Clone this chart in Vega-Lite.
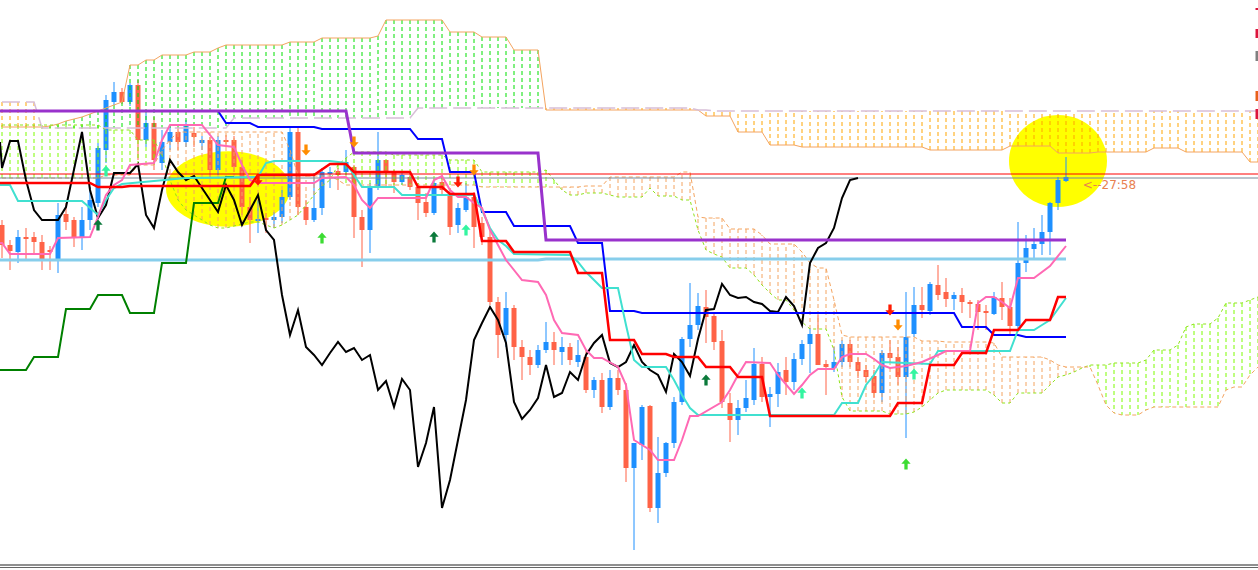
{
  "$schema": "https://vega.github.io/schema/vega-lite/v6.json",
  "width": 1258,
  "height": 570,
  "padding": 0,
  "autosize": {"type": "none"},
  "background": "#ffffff",
  "datasets": {
    "zones": [
      {"t": 28.25, "v": 189, "z": "a"},
      {"t": 132, "v": 161, "z": "b"}
    ],
    "candles": [
      {"t":0,"o":225,"h":220,"l":258,"c":245},{"t":1,"o":245,"h":240,"l":270,"c":251},{"t":2,"o":252,"h":230,"l":263,"c":237},
      {"t":3,"o":237,"h":228,"l":260,"c":239},{"t":4,"o":237,"h":232,"l":253,"c":242},{"t":5,"o":242,"h":235,"l":270,"c":260},
      {"t":6,"o":250,"h":246,"l":270,"c":252},{"t":7,"o":260,"h":203,"l":273,"c":215},{"t":8,"o":214,"h":203,"l":230,"c":222},
      {"t":9,"o":220,"h":217,"l":247,"c":237},{"t":10,"o":238,"h":207,"l":250,"c":220},{"t":11,"o":220,"h":187,"l":230,"c":200},
      {"t":12,"o":203,"h":143,"l":207,"c":148},{"t":13,"o":150,"h":95,"l":163,"c":100},{"t":14,"o":102,"h":82,"l":105,"c":92},
      {"t":15,"o":92,"h":88,"l":104,"c":102},{"t":16,"o":102,"h":83,"l":106,"c":85},{"t":17,"o":85,"h":80,"l":160,"c":140},
      {"t":18,"o":140,"h":113,"l":147,"c":123},{"t":19,"o":123,"h":117,"l":170,"c":160},{"t":20,"o":163,"h":130,"l":170,"c":142},
      {"t":21,"o":142,"h":125,"l":150,"c":132},{"t":22,"o":132,"h":127,"l":150,"c":142},{"t":23,"o":142,"h":120,"l":147,"c":125},
      {"t":24,"o":133,"h":127,"l":147,"c":137},{"t":25,"o":143,"h":136,"l":150,"c":140},{"t":26,"o":140,"h":137,"l":178,"c":170},
      {"t":27,"o":170,"h":136,"l":175,"c":140},{"t":28,"o":140,"h":135,"l":147,"c":142},{"t":29,"o":140,"h":136,"l":172,"c":167},
      {"t":30,"o":167,"h":160,"l":215,"c":207},{"t":31,"o":207,"h":197,"l":243,"c":220},{"t":32,"o":221,"h":200,"l":233,"c":219},
      {"t":33,"o":218,"h":213,"l":233,"c":220},{"t":34,"o":220,"h":212,"l":228,"c":217},{"t":35,"o":217,"h":190,"l":223,"c":197},
      {"t":36,"o":197,"h":127,"l":200,"c":132},{"t":37,"o":132,"h":127,"l":215,"c":207},{"t":38,"o":207,"h":200,"l":225,"c":220},
      {"t":39,"o":220,"h":173,"l":222,"c":208},{"t":40,"o":208,"h":168,"l":215,"c":172},{"t":41,"o":174,"h":167,"l":188,"c":172},
      {"t":42,"o":171,"h":168,"l":190,"c":175},{"t":43,"o":172,"h":150,"l":175,"c":162},{"t":44,"o":167,"h":165,"l":238,"c":217},
      {"t":45,"o":217,"h":210,"l":267,"c":230},{"t":46,"o":230,"h":183,"l":253,"c":187},{"t":47,"o":188,"h":132,"l":190,"c":160},
      {"t":48,"o":160,"h":160,"l":187,"c":173},{"t":49,"o":173,"h":170,"l":193,"c":182},{"t":50,"o":182,"h":172,"l":185,"c":175},
      {"t":51,"o":177,"h":173,"l":190,"c":187},{"t":52,"o":187,"h":183,"l":220,"c":203},{"t":53,"o":202,"h":193,"l":217,"c":213},
      {"t":54,"o":213,"h":180,"l":215,"c":183},{"t":55,"o":182,"h":175,"l":195,"c":190},{"t":56,"o":195,"h":188,"l":235,"c":227},
      {"t":57,"o":225,"h":203,"l":233,"c":208},{"t":58,"o":210,"h":183,"l":212,"c":197},{"t":59,"o":197,"h":192,"l":248,"c":227},
      {"t":60,"o":223,"h":217,"l":245,"c":237},{"t":61,"o":237,"h":230,"l":305,"c":302},{"t":62,"o":302,"h":297,"l":358,"c":335},
      {"t":63,"o":335,"h":292,"l":347,"c":308},{"t":64,"o":308,"h":305,"l":360,"c":347},{"t":65,"o":347,"h":340,"l":380,"c":357},
      {"t":66,"o":357,"h":350,"l":375,"c":365},{"t":67,"o":365,"h":345,"l":368,"c":350},{"t":68,"o":350,"h":322,"l":353,"c":342},
      {"t":69,"o":342,"h":332,"l":365,"c":350},{"t":70,"o":352,"h":337,"l":365,"c":347},{"t":71,"o":347,"h":343,"l":365,"c":360},
      {"t":72,"o":362,"h":340,"l":367,"c":355},{"t":73,"o":357,"h":350,"l":393,"c":390},{"t":74,"o":390,"h":377,"l":398,"c":380},
      {"t":75,"o":380,"h":373,"l":413,"c":407},{"t":76,"o":407,"h":370,"l":410,"c":378},{"t":77,"o":378,"h":370,"l":395,"c":390},
      {"t":78,"o":390,"h":383,"l":482,"c":468},{"t":79,"o":468,"h":443,"l":550,"c":443},{"t":80,"o":445,"h":405,"l":460,"c":407},
      {"t":81,"o":406,"h":405,"l":512,"c":508},{"t":82,"o":508,"h":437,"l":523,"c":473},{"t":83,"o":473,"h":442,"l":477,"c":443},
      {"t":84,"o":443,"h":397,"l":448,"c":402},{"t":85,"o":402,"h":337,"l":405,"c":339},{"t":86,"o":339,"h":283,"l":347,"c":325},
      {"t":87,"o":325,"h":293,"l":330,"c":306},{"t":88,"o":307,"h":290,"l":343,"c":317},{"t":89,"o":316,"h":313,"l":350,"c":342},
      {"t":90,"o":341,"h":330,"l":408,"c":402},{"t":91,"o":403,"h":393,"l":442,"c":420},{"t":92,"o":420,"h":400,"l":435,"c":408},
      {"t":93,"o":408,"h":380,"l":412,"c":398},{"t":94,"o":400,"h":348,"l":405,"c":364},{"t":95,"o":364,"h":357,"l":402,"c":397},
      {"t":96,"o":397,"h":387,"l":427,"c":394},{"t":97,"o":394,"h":363,"l":407,"c":372},{"t":98,"o":370,"h":357,"l":395,"c":382},
      {"t":99,"o":382,"h":353,"l":390,"c":359},{"t":100,"o":359,"h":340,"l":365,"c":344},{"t":101,"o":344,"h":328,"l":373,"c":334},
      {"t":102,"o":334,"h":315,"l":365,"c":365},{"t":103,"o":364,"h":360,"l":395,"c":367},{"t":104,"o":368,"h":347,"l":372,"c":362},
      {"t":105,"o":362,"h":340,"l":367,"c":344},{"t":106,"o":344,"h":340,"l":367,"c":362},{"t":107,"o":362,"h":357,"l":378,"c":371},
      {"t":108,"o":370,"h":365,"l":382,"c":377},{"t":109,"o":376,"h":370,"l":398,"c":393},{"t":110,"o":393,"h":350,"l":402,"c":353},
      {"t":111,"o":353,"h":340,"l":363,"c":358},{"t":112,"o":357,"h":347,"l":385,"c":377},{"t":113,"o":377,"h":292,"l":438,"c":337},
      {"t":114,"o":334,"h":287,"l":337,"c":305},{"t":115,"o":305,"h":287,"l":318,"c":310},{"t":116,"o":311,"h":282,"l":315,"c":284},
      {"t":117,"o":285,"h":265,"l":300,"c":295},{"t":118,"o":292,"h":278,"l":307,"c":299},{"t":119,"o":299,"h":292,"l":310,"c":295},
      {"t":120,"o":295,"h":288,"l":313,"c":302},{"t":121,"o":302,"h":300,"l":318,"c":304},{"t":122,"o":304,"h":300,"l":330,"c":312},
      {"t":123,"o":311,"h":305,"l":330,"c":313},{"t":124,"o":314,"h":292,"l":315,"c":297},{"t":125,"o":298,"h":282,"l":320,"c":307},
      {"t":126,"o":307,"h":298,"l":335,"c":326},{"t":127,"o":326,"h":222,"l":330,"c":263},{"t":128,"o":263,"h":235,"l":272,"c":248},
      {"t":129,"o":249,"h":228,"l":258,"c":244},{"t":130,"o":244,"h":215,"l":255,"c":232},{"t":131,"o":232,"h":202,"l":255,"c":203},
      {"t":132,"o":203,"h":177,"l":210,"c":180},{"t":133,"o":181,"h":157,"l":182,"c":177}
    ],
    "cloud": [
      {"t":0,"ha":127,"hb":102,"la":125,"lb":178},{"t":1,"ha":127,"hb":102,"la":125,"lb":178},{"t":2,"ha":127,"hb":102,"la":125,"lb":178},
      {"t":3,"ha":127,"hb":102,"la":125,"lb":178},{"t":4,"ha":127,"hb":102,"la":125,"lb":178},{"t":5,"ha":127,"hb":128,"la":125,"lb":178},
      {"t":6,"ha":126,"hb":128,"la":125,"lb":178},{"t":7,"ha":124,"hb":128,"la":125,"lb":178},{"t":8,"ha":121,"hb":128,"la":125,"lb":178},
      {"t":9,"ha":119,"hb":128,"la":125,"lb":178},{"t":10,"ha":117,"hb":128,"la":125,"lb":178},{"t":11,"ha":114,"hb":128,"la":125,"lb":178},
      {"t":12,"ha":111,"hb":128,"la":125,"lb":178},{"t":13,"ha":108,"hb":128,"la":130,"lb":175},{"t":14,"ha":105,"hb":128,"la":130,"lb":175},
      {"t":15,"ha":102,"hb":128,"la":130,"lb":175},{"t":16,"ha":65,"hb":128,"la":130,"lb":175},{"t":17,"ha":65,"hb":128,"la":140,"lb":165},
      {"t":18,"ha":60,"hb":128,"la":140,"lb":165},{"t":19,"ha":60,"hb":128,"la":140,"lb":165},{"t":20,"ha":55,"hb":128,"la":155,"lb":150},
      {"t":21,"ha":55,"hb":128,"la":180,"lb":140},{"t":22,"ha":55,"hb":128,"la":200,"lb":132},{"t":23,"ha":55,"hb":128,"la":210,"lb":132},
      {"t":24,"ha":52,"hb":128,"la":215,"lb":132},{"t":25,"ha":52,"hb":128,"la":220,"lb":132},{"t":26,"ha":52,"hb":128,"la":225,"lb":132},
      {"t":27,"ha":48,"hb":128,"la":228,"lb":132},{"t":28,"ha":45,"hb":128,"la":228,"lb":132},{"t":29,"ha":45,"hb":118,"la":226,"lb":132},
      {"t":30,"ha":45,"hb":118,"la":224,"lb":132},{"t":31,"ha":45,"hb":118,"la":222,"lb":132},{"t":32,"ha":45,"hb":118,"la":222,"lb":132},
      {"t":33,"ha":45,"hb":118,"la":225,"lb":132},{"t":34,"ha":45,"hb":118,"la":228,"lb":132},{"t":35,"ha":45,"hb":118,"la":225,"lb":132},
      {"t":36,"ha":42,"hb":118,"la":220,"lb":150},{"t":37,"ha":42,"hb":118,"la":215,"lb":175},{"t":38,"ha":42,"hb":118,"la":205,"lb":176},
      {"t":39,"ha":42,"hb":118,"la":195,"lb":176},{"t":40,"ha":38,"hb":118,"la":186,"lb":176},{"t":41,"ha":38,"hb":118,"la":180,"lb":176},
      {"t":42,"ha":38,"hb":118,"la":165,"lb":180},{"t":43,"ha":38,"hb":118,"la":158,"lb":185},{"t":44,"ha":38,"hb":118,"la":152,"lb":185},
      {"t":45,"ha":38,"hb":118,"la":152,"lb":185},{"t":46,"ha":38,"hb":118,"la":152,"lb":185},{"t":47,"ha":36,"hb":118,"la":152,"lb":185},
      {"t":48,"ha":20,"hb":118,"la":152,"lb":185},{"t":49,"ha":20,"hb":118,"la":155,"lb":185},{"t":50,"ha":20,"hb":118,"la":155,"lb":185},
      {"t":51,"ha":20,"hb":118,"la":155,"lb":185},{"t":52,"ha":20,"hb":108,"la":155,"lb":185},{"t":53,"ha":20,"hb":108,"la":155,"lb":185},
      {"t":54,"ha":20,"hb":108,"la":155,"lb":185},{"t":55,"ha":20,"hb":108,"la":155,"lb":185},{"t":56,"ha":32,"hb":108,"la":160,"lb":185},
      {"t":57,"ha":32,"hb":108,"la":160,"lb":185},{"t":58,"ha":32,"hb":108,"la":160,"lb":185},{"t":59,"ha":32,"hb":108,"la":160,"lb":185},
      {"t":60,"ha":37,"hb":108,"la":172,"lb":187},{"t":61,"ha":37,"hb":108,"la":172,"lb":187},{"t":62,"ha":37,"hb":108,"la":172,"lb":187},
      {"t":63,"ha":37,"hb":108,"la":172,"lb":187},{"t":64,"ha":50,"hb":108,"la":172,"lb":187},{"t":65,"ha":50,"hb":108,"la":172,"lb":187},
      {"t":66,"ha":50,"hb":108,"la":172,"lb":187},{"t":67,"ha":50,"hb":108,"la":172,"lb":187},{"t":68,"ha":110,"hb":108,"la":170,"lb":187},
      {"t":69,"ha":110,"hb":108,"la":180,"lb":187},{"t":70,"ha":110,"hb":108,"la":190,"lb":187},{"t":71,"ha":110,"hb":108,"la":195,"lb":187},
      {"t":72,"ha":110,"hb":108,"la":195,"lb":187},{"t":73,"ha":110,"hb":108,"la":193,"lb":186},{"t":74,"ha":110,"hb":108,"la":193,"lb":186},
      {"t":75,"ha":110,"hb":108,"la":193,"lb":186},{"t":76,"ha":110,"hb":108,"la":195,"lb":177},{"t":77,"ha":110,"hb":108,"la":197,"lb":177},
      {"t":78,"ha":110,"hb":108,"la":197,"lb":177},{"t":79,"ha":110,"hb":108,"la":197,"lb":177},{"t":80,"ha":110,"hb":108,"la":197,"lb":177},
      {"t":81,"ha":110,"hb":108,"la":188,"lb":177},{"t":82,"ha":110,"hb":108,"la":196,"lb":177},{"t":83,"ha":110,"hb":108,"la":196,"lb":177},
      {"t":84,"ha":110,"hb":108,"la":196,"lb":177},{"t":85,"ha":110,"hb":108,"la":200,"lb":172},{"t":86,"ha":110,"hb":108,"la":200,"lb":172},
      {"t":87,"ha":110,"hb":110,"la":230,"lb":217},{"t":88,"ha":116,"hb":110,"la":250,"lb":218},{"t":89,"ha":116,"hb":111,"la":254,"lb":218},
      {"t":90,"ha":116,"hb":111,"la":257,"lb":218},{"t":91,"ha":116,"hb":111,"la":268,"lb":229},{"t":92,"ha":132,"hb":111,"la":268,"lb":229},
      {"t":93,"ha":132,"hb":111,"la":268,"lb":229},{"t":94,"ha":132,"hb":111,"la":275,"lb":229},{"t":95,"ha":132,"hb":111,"la":285,"lb":235},
      {"t":96,"ha":145,"hb":111,"la":293,"lb":244},{"t":97,"ha":145,"hb":111,"la":300,"lb":244},{"t":98,"ha":145,"hb":111,"la":300,"lb":244},
      {"t":99,"ha":145,"hb":111,"la":310,"lb":244},{"t":100,"ha":147,"hb":111,"la":322,"lb":252},{"t":101,"ha":147,"hb":111,"la":329,"lb":263},
      {"t":102,"ha":147,"hb":111,"la":329,"lb":268},{"t":103,"ha":147,"hb":111,"la":329,"lb":268},{"t":104,"ha":147,"hb":111,"la":350,"lb":300},
      {"t":105,"ha":147,"hb":111,"la":397,"lb":335},{"t":106,"ha":147,"hb":111,"la":411,"lb":337},{"t":107,"ha":147,"hb":111,"la":411,"lb":337},
      {"t":108,"ha":147,"hb":111,"la":411,"lb":337},{"t":109,"ha":147,"hb":111,"la":411,"lb":337},{"t":110,"ha":147,"hb":111,"la":411,"lb":337},
      {"t":111,"ha":147,"hb":111,"la":414,"lb":337},{"t":112,"ha":147,"hb":111,"la":414,"lb":337},{"t":113,"ha":147,"hb":111,"la":414,"lb":337},
      {"t":114,"ha":147,"hb":111,"la":412,"lb":337},{"t":115,"ha":147,"hb":111,"la":407,"lb":341},{"t":116,"ha":150,"hb":111,"la":400,"lb":341},
      {"t":117,"ha":150,"hb":111,"la":393,"lb":341},{"t":118,"ha":150,"hb":111,"la":390,"lb":342},{"t":119,"ha":150,"hb":111,"la":390,"lb":342},
      {"t":120,"ha":150,"hb":111,"la":390,"lb":342},{"t":121,"ha":150,"hb":111,"la":390,"lb":342},{"t":122,"ha":150,"hb":111,"la":390,"lb":342},
      {"t":123,"ha":150,"hb":111,"la":390,"lb":342},{"t":124,"ha":150,"hb":111,"la":395,"lb":343},{"t":125,"ha":150,"hb":111,"la":403,"lb":357},
      {"t":126,"ha":146,"hb":111,"la":403,"lb":357},{"t":127,"ha":146,"hb":111,"la":393,"lb":357},{"t":128,"ha":146,"hb":111,"la":393,"lb":357},
      {"t":129,"ha":146,"hb":111,"la":393,"lb":357},{"t":130,"ha":146,"hb":111,"la":393,"lb":357},{"t":131,"ha":146,"hb":111,"la":385,"lb":360},
      {"t":132,"ha":153,"hb":111,"la":377,"lb":365},{"t":133,"ha":153,"hb":111,"la":375,"lb":367},{"t":134,"ha":153,"hb":111,"la":372,"lb":367},
      {"t":135,"ha":153,"hb":111,"la":368,"lb":367},{"t":136,"ha":153,"hb":111,"la":365,"lb":367},{"t":137,"ha":152,"hb":111,"la":365,"lb":385},
      {"t":138,"ha":152,"hb":111,"la":365,"lb":405},{"t":139,"ha":152,"hb":111,"la":363,"lb":413},{"t":140,"ha":152,"hb":111,"la":363,"lb":415},
      {"t":141,"ha":152,"hb":111,"la":363,"lb":415},{"t":142,"ha":152,"hb":111,"la":363,"lb":415},{"t":143,"ha":152,"hb":111,"la":360,"lb":410},
      {"t":144,"ha":148,"hb":111,"la":350,"lb":407},{"t":145,"ha":148,"hb":111,"la":350,"lb":407},{"t":146,"ha":148,"hb":111,"la":350,"lb":407},
      {"t":147,"ha":148,"hb":111,"la":345,"lb":407},{"t":148,"ha":152,"hb":111,"la":327,"lb":407},{"t":149,"ha":152,"hb":111,"la":324,"lb":407},
      {"t":150,"ha":152,"hb":111,"la":324,"lb":407},{"t":151,"ha":152,"hb":111,"la":324,"lb":407},{"t":152,"ha":152,"hb":111,"la":318,"lb":407},
      {"t":153,"ha":152,"hb":111,"la":303,"lb":390},{"t":154,"ha":152,"hb":111,"la":303,"lb":387},{"t":155,"ha":152,"hb":111,"la":303,"lb":387},
      {"t":156,"ha":162,"hb":111,"la":300,"lb":375},{"t":157,"ha":162,"hb":111,"la":297,"lb":367}
    ],
    "levels": [
      {"v": 174, "k": "ask"},
      {"v": 178, "k": "bid"}
    ],
    "skyblue": [
      {"t":-0.25,"v":260},{"t":67,"v":260},{"t":68,"v":259},{"t":133,"v":259}
    ],
    "dkgreen": [
      {"t":-0.25,"v":370},{"t":3,"v":370},{"t":4,"v":357},{"t":7,"v":357},{"t":8,"v":309},{"t":11,"v":309},
      {"t":12,"v":295},{"t":15,"v":295},{"t":16,"v":313},{"t":19,"v":313},{"t":20,"v":263},{"t":23,"v":263},
      {"t":24,"v":203},{"t":27,"v":203},{"t":28,"v":177},{"t":29,"v":177}
    ],
    "black": [
      {"t":-0.25,"v":142},{"t":0,"v":168},{"t":1,"v":141},{"t":2,"v":141},{"t":3,"v":180},{"t":4,"v":210},{"t":5,"v":220},
      {"t":7,"v":220},{"t":8,"v":207},{"t":10,"v":132},{"t":11,"v":190},{"t":12,"v":218},{"t":13,"v":205},{"t":14,"v":173},
      {"t":16,"v":173},{"t":17,"v":164},{"t":18,"v":215},{"t":19,"v":228},{"t":20,"v":190},{"t":21,"v":160},{"t":22,"v":172},
      {"t":23,"v":180},{"t":24,"v":176},{"t":25,"v":188},{"t":26,"v":200},{"t":27,"v":212},{"t":28,"v":185},{"t":29,"v":200},
      {"t":30,"v":225},{"t":31,"v":210},{"t":32,"v":195},{"t":33,"v":230},{"t":34,"v":240},{"t":35,"v":295},{"t":36,"v":335},
      {"t":37,"v":310},{"t":38,"v":347},{"t":39,"v":355},{"t":40,"v":365},{"t":41,"v":353},{"t":42,"v":342},{"t":43,"v":352},
      {"t":44,"v":348},{"t":45,"v":360},{"t":46,"v":355},{"t":47,"v":390},{"t":48,"v":381},{"t":49,"v":407},{"t":50,"v":379},
      {"t":51,"v":390},{"t":52,"v":467},{"t":53,"v":443},{"t":54,"v":407},{"t":55,"v":508},{"t":56,"v":480},{"t":57,"v":440},
      {"t":58,"v":400},{"t":59,"v":340},{"t":60,"v":323},{"t":61,"v":307},{"t":62,"v":320},{"t":63,"v":343},{"t":64,"v":402},
      {"t":65,"v":419},{"t":66,"v":410},{"t":67,"v":398},{"t":68,"v":365},{"t":69,"v":397},{"t":70,"v":393},{"t":71,"v":372},
      {"t":72,"v":380},{"t":73,"v":355},{"t":74,"v":343},{"t":75,"v":335},{"t":76,"v":363},{"t":77,"v":367},{"t":78,"v":362},
      {"t":79,"v":345},{"t":80,"v":362},{"t":81,"v":370},{"t":82,"v":375},{"t":83,"v":392},{"t":84,"v":354},{"t":85,"v":362},
      {"t":86,"v":376},{"t":87,"v":339},{"t":88,"v":310},{"t":89,"v":309},{"t":90,"v":284},{"t":91,"v":295},{"t":92,"v":298},
      {"t":93,"v":297},{"t":94,"v":302},{"t":95,"v":304},{"t":96,"v":311},{"t":97,"v":312},{"t":98,"v":297},{"t":99,"v":306},
      {"t":100,"v":325},{"t":101,"v":263},{"t":102,"v":248},{"t":103,"v":243},{"t":104,"v":228},{"t":105,"v":198},{"t":106,"v":180},
      {"t":107,"v":178}
    ],
    "purple": [
      {"t":-0.25,"v":111},{"t":43,"v":111},{"t":44,"v":153},{"t":67,"v":153},{"t":68,"v":240},{"t":133,"v":240}
    ],
    "blue": [
      {"t":27,"v":111},{"t":28,"v":123},{"t":31,"v":123},{"t":32,"v":127},{"t":39,"v":127},{"t":40,"v":129},{"t":51,"v":129},
      {"t":52,"v":139},{"t":55,"v":139},{"t":56,"v":172},{"t":59,"v":172},{"t":60,"v":212},{"t":63,"v":212},{"t":64,"v":226},
      {"t":71,"v":226},{"t":72,"v":243},{"t":75,"v":243},{"t":76,"v":311},{"t":79,"v":311},{"t":80,"v":313},{"t":119,"v":313},
      {"t":120,"v":327},{"t":123,"v":327},{"t":124,"v":335},{"t":127,"v":335},{"t":128,"v":337},{"t":133,"v":337}
    ],
    "turq": [
      {"t":-0.25,"v":185},{"t":1,"v":185},{"t":2,"v":201},{"t":10,"v":201},{"t":12,"v":215},{"t":13,"v":200},{"t":14,"v":188},
      {"t":15,"v":184},{"t":23,"v":178},{"t":32,"v":177},{"t":33,"v":163},{"t":34,"v":161},{"t":41,"v":161},{"t":43,"v":163},
      {"t":45,"v":187},{"t":49,"v":187},{"t":50,"v":195},{"t":59,"v":195},{"t":60,"v":210},{"t":61,"v":228},{"t":62,"v":240},
      {"t":63,"v":246},{"t":64,"v":254},{"t":71,"v":255},{"t":72,"v":262},{"t":73,"v":272},{"t":74,"v":280},{"t":75,"v":288},
      {"t":77,"v":288},{"t":78,"v":325},{"t":79,"v":360},{"t":80,"v":367},{"t":83,"v":367},{"t":84,"v":380},{"t":85,"v":395},
      {"t":86,"v":408},{"t":87,"v":415},{"t":104,"v":415},{"t":105,"v":403},{"t":107,"v":403},{"t":108,"v":385},{"t":109,"v":375},
      {"t":110,"v":362},{"t":116,"v":364},{"t":117,"v":351},{"t":126,"v":351},{"t":127,"v":330},{"t":129,"v":330},{"t":130,"v":325},
      {"t":131,"v":320},{"t":132,"v":309},{"t":133,"v":298}
    ],
    "pink": [
      {"t":-0.25,"v":243},{"t":0,"v":243},{"t":1,"v":254},{"t":6,"v":254},{"t":7,"v":238},{"t":11,"v":237},{"t":12,"v":217},
      {"t":13,"v":195},{"t":14,"v":185},{"t":15,"v":180},{"t":16,"v":165},{"t":19,"v":163},{"t":20,"v":140},{"t":21,"v":125},
      {"t":25,"v":125},{"t":27,"v":145},{"t":29,"v":147},{"t":30,"v":165},{"t":31,"v":180},{"t":32,"v":183},{"t":39,"v":183},
      {"t":40,"v":178},{"t":43,"v":177},{"t":44,"v":185},{"t":45,"v":200},{"t":46,"v":208},{"t":47,"v":198},{"t":53,"v":198},
      {"t":54,"v":180},{"t":55,"v":176},{"t":56,"v":190},{"t":57,"v":197},{"t":58,"v":197},{"t":59,"v":203},{"t":60,"v":208},
      {"t":61,"v":230},{"t":63,"v":260},{"t":65,"v":280},{"t":67,"v":282},{"t":68,"v":295},{"t":69,"v":320},{"t":70,"v":333},
      {"t":72,"v":335},{"t":73,"v":350},{"t":74,"v":358},{"t":75,"v":358},{"t":77,"v":367},{"t":78,"v":385},{"t":79,"v":440},
      {"t":81,"v":450},{"t":82,"v":460},{"t":84,"v":460},{"t":85,"v":440},{"t":86,"v":416},{"t":87,"v":416},{"t":90,"v":402},
      {"t":91,"v":390},{"t":92,"v":375},{"t":93,"v":362},{"t":96,"v":363},{"t":97,"v":375},{"t":99,"v":394},{"t":100,"v":385},
      {"t":101,"v":375},{"t":102,"v":369},{"t":104,"v":369},{"t":105,"v":357},{"t":106,"v":354},{"t":108,"v":354},{"t":109,"v":359},
      {"t":110,"v":365},{"t":111,"v":368},{"t":113,"v":366},{"t":115,"v":362},{"t":117,"v":355},{"t":118,"v":351},{"t":121,"v":351},
      {"t":122,"v":303},{"t":123,"v":297},{"t":124,"v":297},{"t":125,"v":302},{"t":126,"v":308},{"t":127,"v":278},{"t":129,"v":278},
      {"t":131,"v":266},{"t":133,"v":246}
    ],
    "red": [
      {"t":-0.25,"v":183},{"t":11,"v":183},{"t":12,"v":187},{"t":15,"v":187},{"t":16,"v":186},{"t":31,"v":186},{"t":32,"v":175},
      {"t":39,"v":175},{"t":41,"v":164},{"t":43,"v":164},{"t":44,"v":172},{"t":51,"v":172},{"t":52,"v":187},{"t":55,"v":187},
      {"t":56,"v":194},{"t":59,"v":194},{"t":60,"v":241},{"t":63,"v":241},{"t":64,"v":252},{"t":71,"v":252},{"t":72,"v":273},
      {"t":75,"v":273},{"t":76,"v":340},{"t":79,"v":340},{"t":80,"v":354},{"t":83,"v":354},{"t":84,"v":357},{"t":87,"v":357},
      {"t":88,"v":367},{"t":91,"v":367},{"t":92,"v":377},{"t":95,"v":377},{"t":96,"v":416},{"t":111,"v":416},{"t":112,"v":403},
      {"t":115,"v":403},{"t":116,"v":365},{"t":119,"v":365},{"t":120,"v":353},{"t":123,"v":353},{"t":124,"v":330},{"t":127,"v":330},
      {"t":128,"v":320},{"t":131,"v":320},{"t":132,"v":297},{"t":133,"v":297}
    ],
    "arrows": [
      {"t":12,"v":225,"d":"up","k":"dk"},{"t":13,"v":171,"d":"up","k":"spring"},{"t":40,"v":238,"d":"up","k":"lime"},
      {"t":54,"v":237,"d":"up","k":"dk"},{"t":58,"v":230,"d":"up","k":"spring"},{"t":88,"v":380,"d":"up","k":"dk"},
      {"t":100,"v":393,"d":"up","k":"spring"},{"t":114,"v":374,"d":"up","k":"spring"},{"t":113,"v":464,"d":"up","k":"lime"},
      {"t":32,"v":180,"d":"down","k":"red"},{"t":38,"v":150,"d":"down","k":"orange"},{"t":44,"v":142,"d":"down","k":"orange"},
      {"t":57,"v":182,"d":"down","k":"red"},{"t":59,"v":170,"d":"down","k":"orange"},{"t":111,"v":310,"d":"down","k":"red"},
      {"t":112,"v":325,"d":"down","k":"orange"}
    ],
    "label": [
      {"t": 135.1, "v": 185, "txt": "<--27:58"}
    ],
    "edge": [
      {"t":157,"v":8,"v2":10,"k":"r"},{"t":157,"v":29,"v2":38,"k":"r"},{"t":157,"v":51,"v2":61,"k":"g"},
      {"t":157,"v":91,"v2":101,"k":"o"},{"t":157,"v":109,"v2":119,"k":"r"}
    ],
    "frame": [
      {"v": 565, "k": "a"},
      {"v": 567.5, "k": "b"}
    ]
  },
  "resolve": {"scale": {"color": "independent", "stroke": "independent", "fill": "independent"}},
  "layer": [
    {
      "data": {"name": "zones"},
      "transform": [{"filter": "datum.z == 'a'"}],
      "mark": {"type": "point", "filled": true, "opacity": 1, "color": "#FFFF00", "size": 15376,
               "shape": "M-1,0A1,0.61,0,1,1,1,0A1,0.61,0,1,1,-1,0Z"},
      "encoding": {
        "x": {"field": "t", "type": "quantitative", "scale": {"domain": [-0.25, 157]}, "axis": null},
        "y": {"field": "v", "type": "quantitative", "scale": {"domain": [570, 0]}, "axis": null}
      }
    },
    {
      "data": {"name": "zones"},
      "transform": [{"filter": "datum.z == 'b'"}],
      "mark": {"type": "point", "filled": true, "opacity": 1, "color": "#FFFF00", "size": 9604,
               "shape": "M-1,0A1,0.94,0,1,1,1,0A1,0.94,0,1,1,-1,0Z"},
      "encoding": {
        "x": {"field": "t", "type": "quantitative", "scale": {"domain": [-0.25, 157]}, "axis": null},
        "y": {"field": "v", "type": "quantitative", "scale": {"domain": [570, 0]}, "axis": null}
      }
    },
    {
      "data": {"name": "candles"},
      "mark": {"type": "rule", "strokeWidth": 1},
      "encoding": {
        "x": {"field": "t", "type": "quantitative", "scale": {"domain": [-0.25, 157]}, "axis": null},
        "y": {"field": "h", "type": "quantitative", "scale": {"domain": [570, 0]}, "axis": null},
        "y2": {"field": "l"},
        "color": {"condition": {"test": "datum.c < datum.o", "value": "#1E90FF"}, "value": "#FF6347"}
      }
    },
    {
      "data": {"name": "candles"},
      "mark": {"type": "rule", "strokeWidth": 5, "strokeCap": "butt"},
      "encoding": {
        "x": {"field": "t", "type": "quantitative", "scale": {"domain": [-0.25, 157]}, "axis": null},
        "y": {"field": "o", "type": "quantitative", "scale": {"domain": [570, 0]}, "axis": null},
        "y2": {"field": "c"},
        "color": {"condition": {"test": "datum.c < datum.o", "value": "#1E90FF"}, "value": "#FF6347"}
      }
    },
    {
      "data": {"name": "cloud"},
      "mark": {"type": "rule", "strokeWidth": 1, "strokeDash": [4, 3]},
      "encoding": {
        "x": {"field": "t", "type": "quantitative", "scale": {"domain": [-0.25, 157]}, "axis": null},
        "y": {"field": "la", "type": "quantitative", "scale": {"domain": [570, 0]}, "axis": null},
        "y2": {"field": "lb"},
        "color": {"condition": {"test": "datum.la < datum.lb", "value": "#7CFC00"}, "value": "#F4A460"}
      }
    },
    {
      "data": {"name": "cloud"},
      "mark": {"type": "rule", "strokeWidth": 1, "strokeDash": [4, 3]},
      "encoding": {
        "x": {"field": "t", "type": "quantitative", "scale": {"domain": [-0.25, 157]}, "axis": null},
        "y": {"field": "ha", "type": "quantitative", "scale": {"domain": [570, 0]}, "axis": null},
        "y2": {"field": "hb"},
        "color": {"condition": {"test": "datum.ha < datum.hb", "value": "#00E000"}, "value": "#FFA500"}
      }
    },
    {
      "data": {"name": "cloud"},
      "mark": {"type": "line", "color": "#F4A460", "strokeWidth": 1},
      "encoding": {
        "x": {"field": "t", "type": "quantitative", "scale": {"domain": [-0.25, 157]}, "axis": null},
        "y": {"field": "ha", "type": "quantitative", "scale": {"domain": [570, 0]}, "axis": null}
      }
    },
    {
      "data": {"name": "cloud"},
      "mark": {"type": "line", "color": "#D8BFD8", "strokeWidth": 1.5, "strokeDash": [18, 6]},
      "encoding": {
        "x": {"field": "t", "type": "quantitative", "scale": {"domain": [-0.25, 157]}, "axis": null},
        "y": {"field": "hb", "type": "quantitative", "scale": {"domain": [570, 0]}, "axis": null}
      }
    },
    {
      "data": {"name": "cloud"},
      "mark": {"type": "line", "color": "#8FE31A", "strokeWidth": 1, "strokeDash": [3, 3]},
      "encoding": {
        "x": {"field": "t", "type": "quantitative", "scale": {"domain": [-0.25, 157]}, "axis": null},
        "y": {"field": "la", "type": "quantitative", "scale": {"domain": [570, 0]}, "axis": null}
      }
    },
    {
      "data": {"name": "cloud"},
      "mark": {"type": "line", "color": "#F4A460", "strokeWidth": 1, "strokeDash": [4, 3]},
      "encoding": {
        "x": {"field": "t", "type": "quantitative", "scale": {"domain": [-0.25, 157]}, "axis": null},
        "y": {"field": "lb", "type": "quantitative", "scale": {"domain": [570, 0]}, "axis": null}
      }
    },
    {
      "data": {"name": "levels"},
      "mark": {"type": "rule", "strokeWidth": 1},
      "encoding": {
        "y": {"field": "v", "type": "quantitative", "scale": {"domain": [570, 0]}, "axis": null},
        "stroke": {"field": "k", "type": "nominal", "scale": {"domain": ["ask", "bid"], "range": ["#FF0000", "#778899"]}, "legend": null}
      }
    },
    {
      "data": {"name": "skyblue"},
      "mark": {"type": "line", "color": "#87CEEB", "strokeWidth": 3},
      "encoding": {
        "x": {"field": "t", "type": "quantitative", "scale": {"domain": [-0.25, 157]}, "axis": null},
        "y": {"field": "v", "type": "quantitative", "scale": {"domain": [570, 0]}, "axis": null}
      }
    },
    {
      "data": {"name": "dkgreen"},
      "mark": {"type": "line", "color": "#008000", "strokeWidth": 2},
      "encoding": {
        "x": {"field": "t", "type": "quantitative", "scale": {"domain": [-0.25, 157]}, "axis": null},
        "y": {"field": "v", "type": "quantitative", "scale": {"domain": [570, 0]}, "axis": null}
      }
    },
    {
      "data": {"name": "black"},
      "mark": {"type": "line", "color": "#000000", "strokeWidth": 2},
      "encoding": {
        "x": {"field": "t", "type": "quantitative", "scale": {"domain": [-0.25, 157]}, "axis": null},
        "y": {"field": "v", "type": "quantitative", "scale": {"domain": [570, 0]}, "axis": null}
      }
    },
    {
      "data": {"name": "blue"},
      "mark": {"type": "line", "color": "#0000FF", "strokeWidth": 2},
      "encoding": {
        "x": {"field": "t", "type": "quantitative", "scale": {"domain": [-0.25, 157]}, "axis": null},
        "y": {"field": "v", "type": "quantitative", "scale": {"domain": [570, 0]}, "axis": null}
      }
    },
    {
      "data": {"name": "purple"},
      "mark": {"type": "line", "color": "#9932CC", "strokeWidth": 3},
      "encoding": {
        "x": {"field": "t", "type": "quantitative", "scale": {"domain": [-0.25, 157]}, "axis": null},
        "y": {"field": "v", "type": "quantitative", "scale": {"domain": [570, 0]}, "axis": null}
      }
    },
    {
      "data": {"name": "turq"},
      "mark": {"type": "line", "color": "#40E0D0", "strokeWidth": 2},
      "encoding": {
        "x": {"field": "t", "type": "quantitative", "scale": {"domain": [-0.25, 157]}, "axis": null},
        "y": {"field": "v", "type": "quantitative", "scale": {"domain": [570, 0]}, "axis": null}
      }
    },
    {
      "data": {"name": "pink"},
      "mark": {"type": "line", "color": "#FF69B4", "strokeWidth": 2},
      "encoding": {
        "x": {"field": "t", "type": "quantitative", "scale": {"domain": [-0.25, 157]}, "axis": null},
        "y": {"field": "v", "type": "quantitative", "scale": {"domain": [570, 0]}, "axis": null}
      }
    },
    {
      "data": {"name": "red"},
      "mark": {"type": "line", "color": "#FF0000", "strokeWidth": 2.5},
      "encoding": {
        "x": {"field": "t", "type": "quantitative", "scale": {"domain": [-0.25, 157]}, "axis": null},
        "y": {"field": "v", "type": "quantitative", "scale": {"domain": [570, 0]}, "axis": null}
      }
    },
    {
      "data": {"name": "arrows"},
      "transform": [{"filter": "datum.d == 'up'"}],
      "mark": {"type": "point", "filled": true, "opacity": 1, "size": 120,
               "shape": "M0,-1L0.85,-0.05L0.3,-0.05L0.3,1L-0.3,1L-0.3,-0.05L-0.85,-0.05Z"},
      "encoding": {
        "x": {"field": "t", "type": "quantitative", "scale": {"domain": [-0.25, 157]}, "axis": null},
        "y": {"field": "v", "type": "quantitative", "scale": {"domain": [570, 0]}, "axis": null},
        "fill": {"field": "k", "type": "nominal",
                 "scale": {"domain": ["dk", "spring", "lime"], "range": ["#0B7A3B", "#33F5A0", "#3CDC32"]},
                 "legend": null}
      }
    },
    {
      "data": {"name": "arrows"},
      "transform": [{"filter": "datum.d == 'down'"}],
      "mark": {"type": "point", "filled": true, "opacity": 1, "size": 120,
               "shape": "M0,1L0.85,0.05L0.3,0.05L0.3,-1L-0.3,-1L-0.3,0.05L-0.85,0.05Z"},
      "encoding": {
        "x": {"field": "t", "type": "quantitative", "scale": {"domain": [-0.25, 157]}, "axis": null},
        "y": {"field": "v", "type": "quantitative", "scale": {"domain": [570, 0]}, "axis": null},
        "fill": {"field": "k", "type": "nominal",
                 "scale": {"domain": ["red", "orange"], "range": ["#FF1A00", "#FF8C00"]},
                 "legend": null}
      }
    },
    {
      "data": {"name": "label"},
      "mark": {"type": "text", "align": "left", "baseline": "middle", "font": "DejaVu Sans", "fontSize": 12, "color": "#E8814F"},
      "encoding": {
        "x": {"field": "t", "type": "quantitative", "scale": {"domain": [-0.25, 157]}, "axis": null},
        "y": {"field": "v", "type": "quantitative", "scale": {"domain": [570, 0]}, "axis": null},
        "text": {"field": "txt"}
      }
    },
    {
      "data": {"name": "edge"},
      "mark": {"type": "rule", "strokeWidth": 5, "strokeCap": "butt"},
      "encoding": {
        "x": {"field": "t", "type": "quantitative", "scale": {"domain": [-0.25, 157]}, "axis": null},
        "y": {"field": "v", "type": "quantitative", "scale": {"domain": [570, 0]}, "axis": null},
        "y2": {"field": "v2"},
        "stroke": {"field": "k", "type": "nominal", "scale": {"domain": ["r", "g", "o"], "range": ["#DC143C", "#808080", "#E8601A"]}, "legend": null}
      }
    },
    {
      "data": {"name": "frame"},
      "mark": {"type": "rule", "strokeWidth": 1.2},
      "encoding": {
        "y": {"field": "v", "type": "quantitative", "scale": {"domain": [570, 0]}, "axis": null},
        "stroke": {"field": "k", "type": "nominal", "scale": {"domain": ["a", "b"], "range": ["#222222", "#666666"]}, "legend": null}
      }
    }
  ],
  "config": {
    "view": {"stroke": null},
    "axis": {"grid": false}
  }
}
